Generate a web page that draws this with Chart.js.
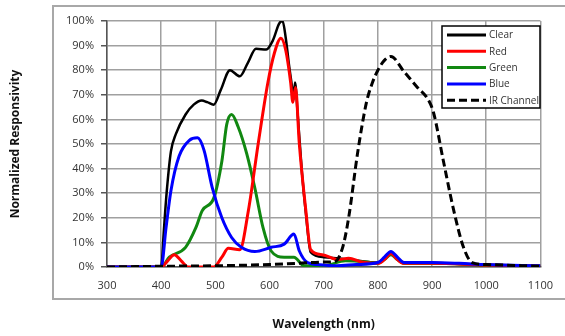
<!DOCTYPE html>
<html>
<head>
<meta charset="utf-8">
<script src="https://cdn.jsdelivr.net/npm/chart.js@4"></script>
<style>
  html,body{margin:0;padding:0;background:#fff;}
  #wrap{width:565px;height:336px;}
</style>
</head>
<body>
<div id="wrap"><canvas id="chart" width="565" height="336"></canvas></div>
<script>
/* ===== Data ===== */
const xTicks = [300,400,500,600,700,800,900,1000,1100];
const yTicks = [0,10,20,30,40,50,60,70,80,90,100];

const clearWl  = [300,350,400,405,410,418,427,445,460,475,485,497,510,527,545,560,575,594,606,618,624,630,636,641,644,647,652,660,667,676,700,750,800,824,848,900,1000,1100];
const clearVal = [0,0,0,15,30,47,54,62,66,67.7,67,66,72,80,77.5,83,88.7,88.4,92,99,100,93,82,74,68,75,62,38,22,6,4,3,1.8,5.5,1.5,1.5,0.8,0.4];

const redWl  = [300,400,412,424,437,450,480,497,512,524,545,561,579,597,609,621,630,639,643,648,655,667,676,697,727,746,770,800,812,824,836,848,900,1000,1100];
const redVal = [0,0,2.5,5,2.5,0,0,0,4,7.6,7,23,50,75,87,93,88,75,67,73,50,23,7,5,3,3.6,2,1.5,3,5.5,3,1.5,1.5,0.8,0.4];

const greenWl  = [300,400,415,445,464,476,497,512,521,530,542,558,573,588,603,627,645,664,700,740,780,800,812,824,836,848,900,1000,1100];
const greenVal = [0,0,4,8,16,23,28,43,58,62,57,46,32,16,6.5,4,4,0.5,0.5,2.5,2,1.5,3,5,3,1.5,1.5,0.8,0.4];

const blueWl  = [300,400,409,418,433,452,467,479,494,512,530,548,573,603,627,645,655,670,688,724,760,800,812,824,836,848,900,950,1000,1100];
const blueVal = [0,0,16,31,45,51.5,52.5,47.5,32.5,20,12,8,6.3,8,9.3,13.4,6.5,1.8,1,0.5,1,1.8,4,6.3,4,1.8,1.8,1.5,1,0.5];

const irWl  = [300,400,500,600,650,700,720,735,746,763,779,790,800,812,824,848,873,893,903,921,940,958,974,1000,1100];
const irVal = [0,0.3,0.5,1,1.5,2,2.2,8,20,47,67,75,80,84,85.6,79.5,73,68,62.5,43,23,8,1.8,1,0.3];

const seriesNames = ['Clear','Red','Green','Blue','IR Channel'];
const seriesColors = ['#000000','#ff0000','#118811','#0000ff','#000000'];

function pts(wl, val){ return wl.map((w,i)=>({x:w, y:val[i]})); }

/* ===== Plugins: outer frame + inside legend ===== */
const framePlugin = {
  id:'frame',
  beforeDraw(chart){
    const c = chart.ctx;
    c.save();
    c.strokeStyle = '#a8a8a8';
    c.lineWidth = 2;
    c.strokeRect(53,6,530,293);
    c.restore();
  }
};

const boxLegend = {
  id:'boxLegend',
  afterDraw(chart){
    const c = chart.ctx;
    const x0 = 442, y0 = 26, w = 98, h = 82;
    c.save();
    c.fillStyle = '#fff';
    c.fillRect(x0,y0,w,h);
    c.strokeStyle = '#000';
    c.lineWidth = 1.5;
    c.strokeRect(x0,y0,w,h);
    c.font = '10px "Open Sans"';
    c.textBaseline = 'middle';
    chart.data.datasets.forEach((ds,i)=>{
      const y = 35 + i*16.3;
      c.strokeStyle = ds.borderColor;
      c.lineWidth = 3;
      c.setLineDash(ds.borderDash || []);
      c.beginPath(); c.moveTo(447,y); c.lineTo(486,y); c.stroke();
      c.setLineDash([]);
      c.fillStyle = '#333';
      c.fillText(ds.label, 489, y+0.5);
    });
    c.restore();
  }
};

/* ===== Chart ===== */
const sets = [
  {wl:clearWl, val:clearVal, width:2.5, order:4},
  {wl:redWl,   val:redVal,   width:3,   order:2},
  {wl:greenWl, val:greenVal, width:3,   order:3},
  {wl:blueWl,  val:blueVal,  width:3,   order:1},
  {wl:irWl,    val:irVal,    width:3,   order:0, dash:[8,4]}
];

new Chart(document.getElementById('chart'), {
  type:'line',
  data:{ datasets: sets.map((s,i)=>({
    label: seriesNames[i],
    data: pts(s.wl, s.val),
    borderColor: seriesColors[i],
    borderWidth: s.width,
    borderDash: s.dash,
    order: s.order,
    pointRadius:0,
    fill:false,
    cubicInterpolationMode:'monotone'
  }))},
  options:{
    responsive:false,
    animation:false,
    layout:{ padding:{top:21, right:22, left:0, bottom:0} },
    plugins:{ legend:{display:false}, tooltip:{enabled:false} },
    scales:{
      x:{
        type:'linear', min:300, max:1100,
        afterBuildTicks: s => { s.ticks = xTicks.map(v=>({value:v})); },
        afterFit: s => { s.height = 69; },
        grid:{ color:'#a0a0a0', lineWidth:1.5, drawTicks:false },
        border:{ color:'#555', width:1.5 },
        ticks:{ padding:12, color:'#333', font:{family:'"Open Sans"', size:11}, maxRotation:0, callback: v => String(v) },
        title:{ display:true, text:'Wavelength (nm)', color:'#111', font:{family:'"Open Sans"', size:12, weight:'bold'}, padding:{top:0,bottom:4} }
      },
      y:{
        min:0, max:100,
        afterBuildTicks: s => { s.ticks = yTicks.map(v=>({value:v})); },
        afterFit: s => { s.width = 107; },
        grid:{ color:'#a0a0a0', lineWidth:1.5, tickLength:6, tickColor:'#555' },
        border:{ color:'#555', width:1.5 },
        ticks:{ padding:7, color:'#333', font:{family:'"Open Sans"', size:11}, callback: v => v + '%' },
        title:{ display:true, text:'Normalized Responsivity', color:'#111', font:{family:'"Open Sans"', size:12, weight:'bold'}, padding:{top:8,bottom:0} }
      }
    }
  },
  plugins:[framePlugin, boxLegend]
});
</script>
</body>
</html>
